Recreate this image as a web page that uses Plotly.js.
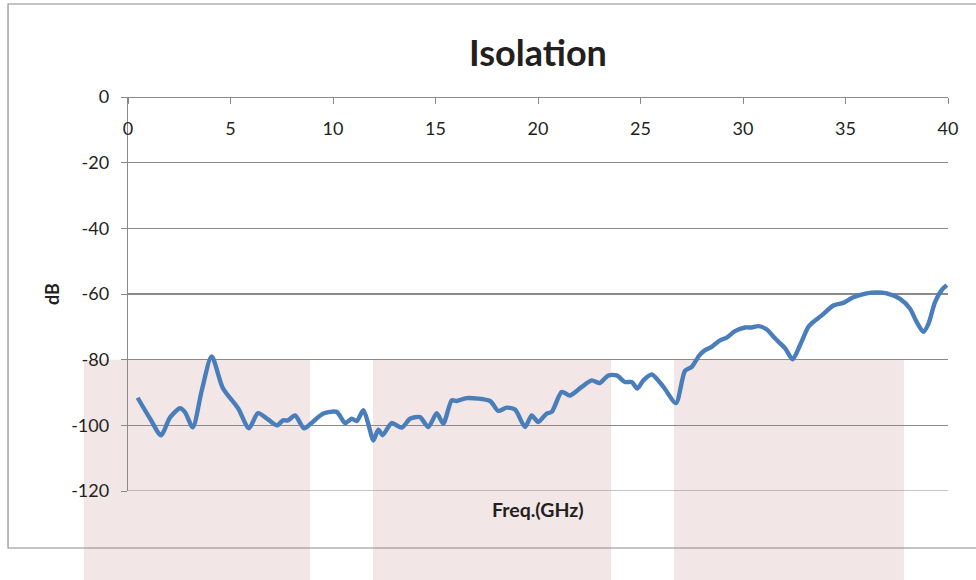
<!DOCTYPE html>
<html>
<head>
<meta charset="utf-8">
<script src="https://cdn.plot.ly/plotly-3.0.1.min.js"></script>
<style>html,body{margin:0;padding:0;background:#fff;}#chart{width:976px;height:580px;}</style>
</head>
<body>
<div id="chart"></div>
<script>
// Frequency (GHz)
const freq = [0.47, 1.07, 1.61, 2.05, 2.54, 2.78, 3.16, 3.6, 4.08, 4.63, 5.37, 5.9, 6.34, 6.83, 7.27, 7.56, 7.8, 8.15, 8.59, 8.98,
  9.53, 10.18, 10.59, 10.91, 11.16, 11.48, 11.72, 11.97, 12.21, 12.42, 12.86, 13.35, 13.76, 14.24, 14.65, 15.06, 15.38, 15.79, 16.03, 16.52,
  17.66, 18.06, 18.47, 18.88, 19.37, 19.69, 20.01, 20.42, 20.67, 21.16, 21.56, 22.13, 22.62, 23.02, 23.43, 23.84, 24.24, 24.57, 24.84, 25.14,
  25.55, 26.12, 26.73, 27.17, 27.5, 27.87, 28.15, 28.47, 28.88, 29.2, 29.61, 30.1, 30.42, 30.75, 31.16, 31.56, 32.05, 32.42, 32.78, 33.19,
  33.43, 33.84, 34.41, 34.89, 35.38, 36.03, 36.52, 37.01, 37.66, 38.15, 38.47, 38.8, 39.05, 39.37, 39.69, 39.94];
// Isolation (dB)
const isolation = [-91.6, -97.9, -103.0, -97.6, -94.8, -96.0, -100.6, -89.3, -79.0, -88.7, -94.8, -100.9, -96.3, -98.2, -100.0, -98.5, -98.5, -97.0, -100.9, -99.1,
  -96.4, -95.9, -99.3, -98.0, -98.7, -95.4, -99.5, -104.6, -101.3, -103.0, -99.3, -100.7, -98.0, -97.5, -100.5, -96.3, -99.5, -92.4, -92.6, -91.7,
  -92.6, -95.6, -94.6, -95.2, -100.5, -97.0, -99.0, -96.4, -95.9, -89.8, -90.9, -88.3, -86.3, -87.1, -84.8, -84.8, -86.8, -86.8, -88.8, -86.3,
  -84.5, -88.3, -93.2, -83.4, -82.2, -78.7, -77.1, -76.1, -74.1, -73.3, -71.3, -70.2, -70.2, -69.8, -70.8, -73.5, -76.5, -79.9, -75.6, -70.0,
  -68.5, -66.5, -63.5, -62.7, -61.0, -59.8, -59.5, -59.8, -61.5, -64.5, -68.5, -71.5, -69.0, -62.4, -58.8, -57.3];
const xTicks = [0, 5, 10, 15, 20, 25, 30, 35, 40];
const yTicks = [0, -20, -40, -60, -80, -100, -120];
// shaded background bands (GHz) and their top level (dB)
const bandStarts = [-2.15, 11.95, 26.63];
const bandEnds = [8.88, 23.56, 37.85];
const bandTop = -80;

const xRange = [0, 40], yRange = [-120, 0];
const toPaperX = v => (v - xRange[0]) / (xRange[1] - xRange[0]);
const toPaperY = v => (v - yRange[0]) / (yRange[1] - yRange[0]);

const textColor = '#231F20';
const gridColor = '#8A8A8A';

const shapes = bandStarts.map((s, i) => ({
  type: 'rect', xref: 'paper', yref: 'paper', layer: 'below',
  x0: toPaperX(s), x1: toPaperX(bandEnds[i]), y0: -0.3, y1: toPaperY(bandTop),
  fillcolor: '#F2E6E6', line: {width: 0}
}));
// bottom gridline (at range edge, which Plotly omits)
shapes.push({
  type: 'line', xref: 'paper', yref: 'y', layer: 'below',
  x0: 0, x1: 1, y0: yRange[0], y1: yRange[0],
  line: {color: gridColor, width: 1.2}
});
// outer chart frame
shapes.push({
  type: 'rect', xref: 'paper', yref: 'paper', layer: 'above',
  x0: -0.1463, x1: 1.05, y0: -0.1447, y1: 1.236,
  fillcolor: 'rgba(0,0,0,0)', line: {color: '#8C8C8C', width: 1.2}
});

const trace = {
  x: freq, y: isolation, type: 'scatter', mode: 'lines',
  line: {color: '#4A7EBB', width: 4.4, shape: 'spline', smoothing: 0.7},
  hoverinfo: 'skip', cliponaxis: false
};

const layout = {
  width: 976, height: 580,
  margin: {l: 128, r: 28, t: 97, b: 89, pad: 0},
  paper_bgcolor: '#FFFFFF', plot_bgcolor: 'rgba(0,0,0,0)',
  showlegend: false,
  font: {family: 'Lato, "Open Sans", sans-serif', color: textColor},
  title: {text: '<b>Isolation</b>', x: 0.5, xref: 'paper', xanchor: 'center',
    y: 1 - 53 / 580, yref: 'container', yanchor: 'middle',
    font: {family: 'Lato, sans-serif', size: 36, color: textColor}},
  xaxis: {
    range: xRange, anchor: 'free', position: 1, side: 'bottom',
    tickvals: xTicks, ticktext: xTicks.map(String),
    ticks: 'outside', ticklen: 6, tickwidth: 1, tickcolor: gridColor,
    showline: true, linecolor: gridColor, linewidth: 1.2,
    showgrid: false, zeroline: false, automargin: false,
    tickfont: {size: 18, color: textColor}, ticklabelstandoff: 9
  },
  yaxis: {
    range: yRange, tickvals: yTicks, ticktext: yTicks.map(String),
    ticks: 'outside', ticklen: 6, tickwidth: 1, tickcolor: gridColor,
    showline: true, linecolor: gridColor, linewidth: 1.2,
    showgrid: true, gridcolor: gridColor, gridwidth: 1.2, zeroline: false, automargin: false,
    tickfont: {size: 18, color: textColor}, ticklabelstandoff: 8
  },
  shapes: shapes,
  annotations: [
    {text: '<b>Freq.(GHz)</b>', xref: 'paper', yref: 'paper', x: 0.5, y: (491 - 509) / 394,
      xanchor: 'center', yanchor: 'middle', showarrow: false,
      font: {size: 19.5, color: textColor}},
    {text: '<b>dB</b>', xref: 'paper', yref: 'paper', x: (52 - 128) / 820, y: 0.5,
      xanchor: 'center', yanchor: 'middle', showarrow: false, textangle: -90,
      font: {size: 18, color: textColor}}
  ]
};

Plotly.newPlot('chart', [trace], layout, {staticPlot: true, displayModeBar: false});
</script>
</body>
</html>
